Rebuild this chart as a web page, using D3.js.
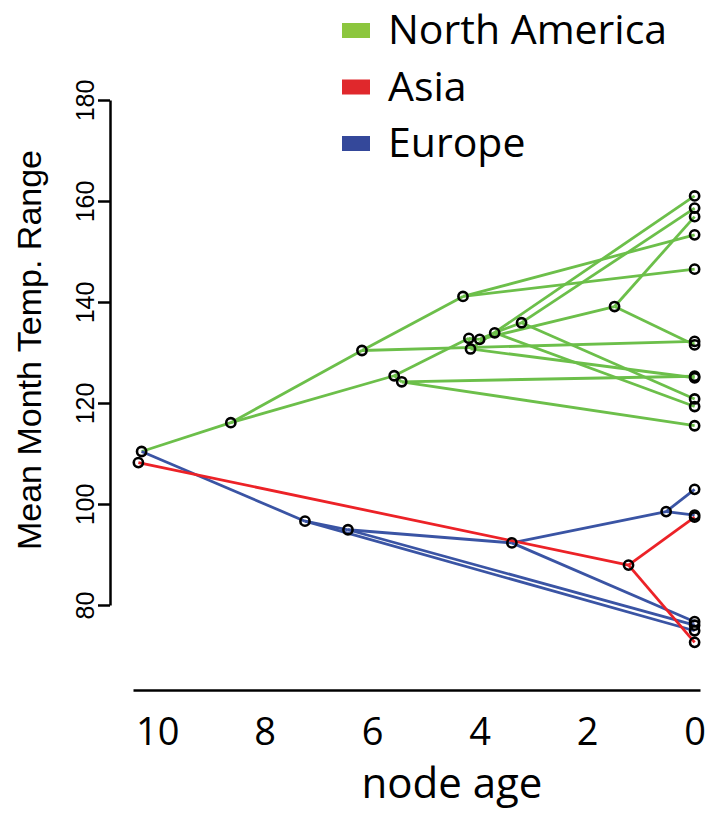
<!DOCTYPE html>
<html>
<head>
<meta charset="utf-8">
<script src="https://cdn.jsdelivr.net/npm/d3@7"></script>
<style>
  body { margin: 0; background: #fff; }
  svg { display: block; }
</style>
</head>
<body>
<div id="chart"></div>
<script>
// regions used for the legend and the edge colours
var regions = ["North America", "Asia", "Europe"];

// nodes of the traitgram: id, parent, age (Ma), trait value, region of the edge above it
var nodeId = ["root", "rroot",
  "A", "B", "C", "C2", "D", "E1", "E2", "E3", "E4", "E5", "F",
  "g1", "g2", "g3", "g4", "g5", "g6", "g7", "g8", "g9", "g10", "g11", "g12",
  "P", "Q", "S", "T", "b1", "b2", "b3", "b4", "b5",
  "R", "r1", "r2"];
var nodeParent = [null, null,
  "root", "A", "A", "C", "B", "C", "E1", "E1", "E3", "E4", "E3",
  "E2", "E5", "F", "D", "D", "B", "F", "C2", "E2", "E5", "E4", "C2",
  "root", "P", "Q", "S", "T", "T", "S", "Q", "P",
  "rroot", "R", "R"];
var nodeAge = [10.29, 10.35,
  8.63, 6.19, 5.59, 5.45, 4.31, 4.20, 4.17, 4.00, 3.72, 3.22, 1.49,
  0, 0, 0, 0, 0, 0, 0, 0, 0, 0, 0, 0,
  7.25, 6.45, 3.40, 0.53, 0, 0, 0, 0, 0,
  1.23, 0, 0];
var nodeValue = [110.4, 108.2,
  116.1, 130.4, 125.4, 124.2, 141.1, 132.8, 130.7, 132.6, 133.9, 135.9, 139.1,
  161.0, 158.6, 156.9, 153.3, 146.5, 132.2, 131.5, 125.3, 125.0, 120.8, 119.3, 115.5,
  96.6, 94.9, 92.3, 98.5, 102.9, 97.8, 76.7, 76.0, 74.9,
  87.9, 97.4, 72.6];
var nodeRegion = ["North America", "Asia",
  "North America", "North America", "North America", "North America", "North America",
  "North America", "North America", "North America", "North America", "North America", "North America",
  "North America", "North America", "North America", "North America", "North America", "North America",
  "North America", "North America", "North America", "North America", "North America", "North America",
  "Europe", "Europe", "Europe", "Europe", "Europe", "Europe", "Europe", "Europe", "Europe",
  "Asia", "Asia", "Asia"];

var xTicks = [10, 8, 6, 4, 2, 0];
var yTicks = [80, 100, 120, 140, 160, 180];

var lineColor = {"North America": "#6cbf4a", "Asia": "#ec2227", "Europe": "#3a54a4"};
var keyColor = {"North America": "#8cc63e", "Asia": "#e0282c", "Europe": "#34489a"};

var width = 715, height = 816;

var nodes = nodeId.map(function(id, i) {
  return {id: id, parent: nodeParent[i], age: nodeAge[i], value: nodeValue[i], region: nodeRegion[i]};
});
var byId = {};
nodes.forEach(function(d) { byId[d.id] = d; });
var edges = nodes.filter(function(d) { return d.parent; });

var x = d3.scaleLinear().domain([10.45, -0.1]).range([133, 700]);
var y = d3.scaleLinear().domain([80, 180]).range([605, 100]);

var svg = d3.select("#chart").append("svg")
    .attr("width", width)
    .attr("height", height);

// y axis
var gy = svg.append("g")
    .attr("transform", "translate(110,0)")
    .call(d3.axisLeft(y).tickValues(yTicks).tickSize(12).tickSizeOuter(0));
gy.selectAll("path, line").attr("stroke", "#000").attr("stroke-width", 2.5);
gy.selectAll("text")
    .attr("x", 0).attr("y", -16).attr("dy", null)
    .attr("transform", "rotate(-90)")
    .attr("text-anchor", "middle")
    .attr("fill", "#000")
    .style("font-family", "'Liberation Sans', Arial, sans-serif")
    .style("font-size", "25px");

// x axis
var gx = svg.append("g")
    .attr("transform", "translate(0,690)")
    .call(d3.axisBottom(x).tickValues(xTicks).tickSize(0).tickSizeOuter(0));
gx.select(".domain").attr("stroke", "#000").attr("stroke-width", 2.5);
gx.selectAll("text")
    .attr("y", 55).attr("dy", null)
    .attr("fill", "#000")
    .style("font-family", "'Open Sans', sans-serif")
    .style("font-size", "38px");

svg.append("text")
    .attr("transform", "translate(41,350) rotate(-90)")
    .attr("text-anchor", "middle")
    .style("font-family", "'Liberation Sans', Arial, sans-serif")
    .style("font-size", "34px")
    .text("Mean Month Temp. Range");

svg.append("text")
    .attr("x", 452).attr("y", 798)
    .attr("text-anchor", "middle")
    .style("font-family", "'Open Sans', sans-serif")
    .style("font-size", "42px")
    .text("node age");

// edges
svg.append("g").selectAll("line")
  .data(edges)
  .enter().append("line")
    .attr("x1", function(d) { return x(byId[d.parent].age); })
    .attr("y1", function(d) { return y(byId[d.parent].value); })
    .attr("x2", function(d) { return x(d.age); })
    .attr("y2", function(d) { return y(d.value); })
    .attr("stroke", function(d) { return lineColor[d.region]; })
    .attr("stroke-width", 2.8);

// nodes
svg.append("g").selectAll("circle")
  .data(nodes)
  .enter().append("circle")
    .attr("cx", function(d) { return x(d.age); })
    .attr("cy", function(d) { return y(d.value); })
    .attr("r", 4.6)
    .attr("fill", "none")
    .attr("stroke", "#000")
    .attr("stroke-width", 2.6);

// legend
var key = svg.append("g").selectAll("g")
  .data(regions)
  .enter().append("g")
    .attr("transform", function(d, i) { return "translate(342," + (44 + i * 56.5) + ")"; });

key.append("rect")
    .attr("x", 0).attr("y", -21)
    .attr("width", 28).attr("height", 15)
    .attr("fill", function(d) { return keyColor[d]; });

key.append("text")
    .attr("x", 46).attr("y", 0)
    .style("font-family", "'Open Sans', sans-serif")
    .style("font-size", "41px")
    .text(function(d) { return d; });
</script>
</body>
</html>
